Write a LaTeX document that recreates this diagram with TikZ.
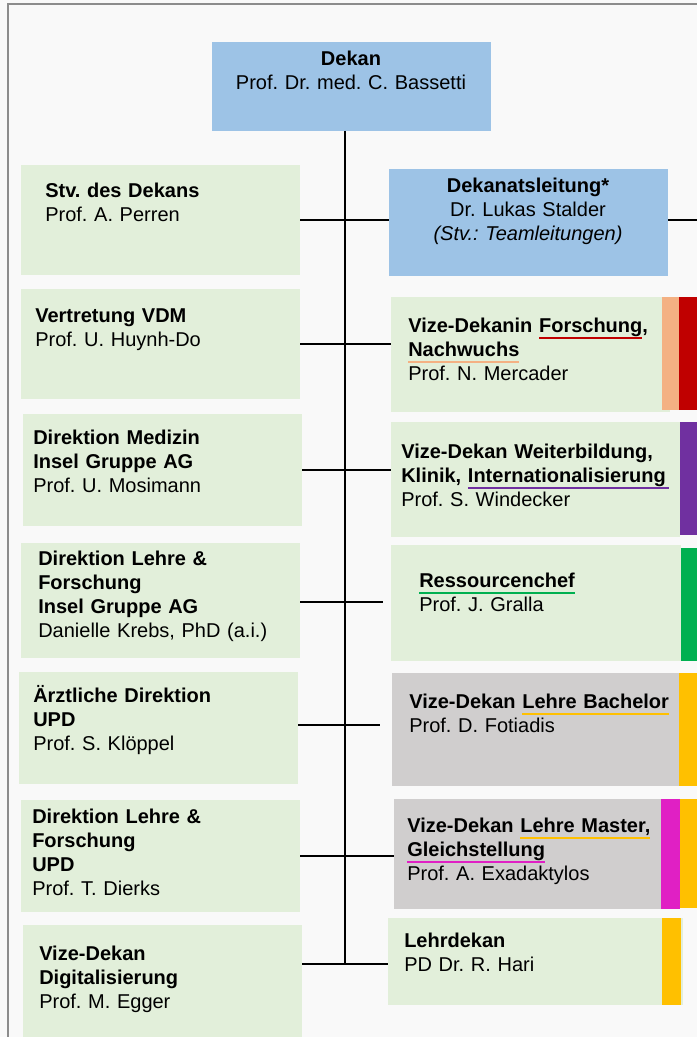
\documentclass[tikz,border=0pt]{standalone}
\usepackage{fontspec}
\setmainfont{Liberation Sans}
\usepackage{xcolor}
\usetikzlibrary{fit}
\frenchspacing

\definecolor{bgC}{HTML}{F9F9F9}
\definecolor{frameC}{HTML}{8C8C8C}
\definecolor{blueC}{HTML}{9DC3E6}
\definecolor{greenC}{HTML}{E2EFDA}
\definecolor{grayC}{HTML}{D0CECE}
\definecolor{orangeC}{HTML}{F4B183}
\definecolor{redC}{HTML}{C00000}
\definecolor{violetC}{HTML}{7030A0}
\definecolor{leafC}{HTML}{00B050}
\definecolor{yellowC}{HTML}{FFC000}
\definecolor{pinkC}{HTML}{E020C4}

\newcommand\markul[2]{\setbox0=\hbox{#2}\rlap{\textcolor{#1}{\rule[-5.6pt]{\wd0}{2.2pt}}}\box0}

\tikzset{
  box/.style={inner sep=0pt, outer sep=0pt},
  bluebox/.style={box, fill=blueC},
  greenbox/.style={box, fill=greenC},
  graybox/.style={box, fill=grayC},
  txt/.style={anchor=base west, inner sep=0pt, text width=210pt, align=left,
    font=\fontsize{15pt}{18pt}\selectfont},
  ctxt/.style={txt, anchor=base, align=center},
  link/.style={draw=black, line width=1.5pt}
}

\begin{document}
\begin{tikzpicture}[x=0.75pt,y=-0.75pt]
  \useasboundingbox (0,0) rectangle (697,1037);
  \fill[bgC] (0,0) rectangle (697,1037);
  \draw[frameC, line width=1.5pt] (8,1037) -- (8,4) -- (697,4);

  % top
  \node[bluebox, fit={(212,42) (491,131)}] (dekan) {};
  \node[bluebox, fit={(389,169) (668,276)}] (lead) {};

  % left column
  \node[greenbox, fit={(21,165) (300,275)}] (stv) {};
  \node[greenbox, fit={(21,289) (300,399)}] (vdm) {};
  \node[greenbox, fit={(23,414) (302,526)}] (med) {};
  \node[greenbox, fit={(21,543) (300,658)}] (ins) {};
  \node[greenbox, fit={(19,672) (298,784)}] (kl) {};
  \node[greenbox, fit={(21,800) (300,912)}] (upd) {};
  \node[greenbox, fit={(23,925) (302,1037)}] (dig) {};

  % right column
  \node[greenbox, fit={(391,297) (670,412)}] (fors) {};
  \fill[orangeC] (662,297) rectangle (679,410);
  \fill[redC] (679,297) rectangle (697,410);
  \node[greenbox, fit={(391,422) (680,537)}] (wb) {};
  \fill[violetC] (680,422) rectangle (697,535);
  \node[greenbox, fit={(391,545) (681,661)}] (res) {};
  \fill[leafC] (681,548) rectangle (697,661);
  \node[graybox, fit={(392,673) (679,786)}] (bach) {};
  \fill[yellowC] (679,673) rectangle (697,786);
  \node[graybox, fit={(394,799) (661,909)}] (mast) {};
  \fill[pinkC] (661,799) rectangle (680,909);
  \fill[yellowC] (680,799) rectangle (697,908);
  \node[greenbox, fit={(388,918) (683,1005)}] (lehr) {};
  \fill[yellowC] (662,918) rectangle (681,1005);

  % texts
  \node[ctxt] (dekanT) at (351,66) {\textbf{Dekan}\\Prof. Dr. med. C. Bassetti};
  \node[ctxt] (leadT) at (528,193) {\textbf{Dekanatsleitung*}\\Dr. Lukas Stalder\\\textit{(Stv.: Teamleitungen)}};
  \node[txt] (stvT) at (45,198) {\textbf{Stv. des Dekans}\\Prof. A. Perren};
  \node[txt] (vdmT) at (35,322) {\textbf{Vertretung VDM}\\Prof. U. Huynh-Do};
  \node[txt] (medT) at (33,444) {\textbf{Direktion Medizin}\\\textbf{Insel Gruppe AG}\\Prof. U. Mosimann};
  \node[txt] (insT) at (38,565) {\textbf{Direktion Lehre \&}\\\textbf{Forschung}\\\textbf{Insel Gruppe AG}\\Danielle Krebs, PhD (a.i.)};
  \node[txt] (klT) at (33,702) {\textbf{Ärztliche Direktion}\\\textbf{UPD}\\Prof. S. Klöppel};
  \node[txt] (updT) at (32,823) {\textbf{Direktion Lehre \&}\\\textbf{Forschung}\\\textbf{UPD}\\Prof. T. Dierks};
  \node[txt] (digT) at (39,960) {\textbf{Vize-Dekan}\\\textbf{Digitalisierung}\\Prof. M. Egger};
  \node[txt] (forsT) at (408,332) {\textbf{Vize-Dekanin \markul{redC}{Forschung},}\\\textbf{\markul{orangeC}{Nachwuchs}}\\Prof. N. Mercader};
  \node[txt] (wbT) at (401,458) {\textbf{Vize-Dekan Weiterbildung,}\\\textbf{Klinik, \markul{violetC}{Internationalisierung\,}}\\Prof. S. Windecker};
  \node[txt] (resT) at (419,587) {\textbf{\markul{leafC}{Ressourcenchef}}\\Prof. J. Gralla};
  \node[txt] (bachT) at (409,708) {\textbf{Vize-Dekan \markul{yellowC}{Lehre Bachelor}}\\Prof. D. Fotiadis};
  \node[txt] (mastT) at (407,832) {\textbf{Vize-Dekan \markul{yellowC}{Lehre Master,}}\\\textbf{\markul{pinkC}{Gleichstellung}}\\Prof. A. Exadaktylos};
  \node[txt] (lehrT) at (404,947) {\textbf{Lehrdekan}\\PD Dr. R. Hari};

  % connectors
  \coordinate (sptop) at (345,131);
  \coordinate (spbot) at (345,964);
  \coordinate (rim) at (697,220);
  \draw[link] (sptop |- dekan.south) -- (spbot);
  \draw[link] (stv.east) -- (stv.east -| lead.west);
  \draw[link] (lead.east |- rim) -- (rim);
  \draw[link] (vdm.east) -- (vdm.east -| fors.west);
  \draw[link] (med.east) -- (med.east -| wb.west);
  \draw[link] ([yshift=-1pt]ins.east) -- ([yshift=-1pt,xshift=-6pt]ins.east -| res.west);
  \draw[link] ([yshift=2.5pt]kl.east) -- ([yshift=2.5pt,xshift=-9pt]kl.east -| bach.west);
  \draw[link] (upd.east) -- (upd.east -| mast.west);
  \draw[link] (spbot -| dig.east) -- (spbot -| lehr.west);
\end{tikzpicture}
\end{document}
